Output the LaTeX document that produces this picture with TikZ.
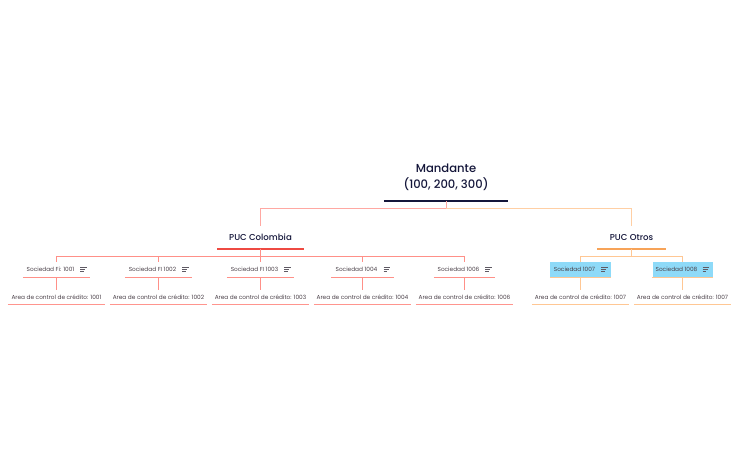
\documentclass[tikz,border=0pt]{standalone}
\usepackage{fontspec}
\setmainfont{Poppins}
\newfontfamily\headfont{Poppins Medium}
\definecolor{inkdark}{HTML}{14163A}
\definecolor{inksoft}{HTML}{4A4048}
\definecolor{iconink}{HTML}{5F5A64}
\definecolor{coralconn}{HTML}{FF9088}
\definecolor{corallight}{HTML}{FFA8A2}
\definecolor{coralstrong}{HTML}{EE4A42}
\definecolor{coralleaf}{HTML}{FF958E}
\definecolor{orangeconn}{HTML}{FFC794}
\definecolor{orangelight}{HTML}{FFCFA4}
\definecolor{orangestrong}{HTML}{F7A358}
\definecolor{bluefill}{HTML}{8EDAF8}
\newcommand{\socname}[1]{#1\hspace{12pt}}
\tikzset{
  textbox/.style={draw=none,inner sep=0pt,anchor=south,align=center},
  rootbox/.style={textbox,minimum width=124pt,minimum height=48pt,text=inkdark,font=\headfont\fontsize{11.6}{16}\selectfont},
  pucbox/.style={textbox,minimum height=23pt,text=inkdark,font=\headfont\fontsize{8.6}{10}\selectfont},
  socbox/.style={textbox,minimum height=15.5pt,text=inksoft,font=\fontsize{5.8}{7}\selectfont},
  leafbox/.style={textbox,minimum width=97pt,minimum height=14pt,text=inksoft,font=\fontsize{5.8}{7}\selectfont},
  link/.style={line width=1pt,draw=#1},
  heavyrule/.style={line width=1.3pt,draw=#1},
  lightrule/.style={line width=1pt,draw=#1},
  iconline/.style={line width=0.6pt,draw=iconink},
}
\begin{document}
\begin{tikzpicture}[x=1pt,y=-1pt]
\useasboundingbox (0,0) rectangle (739,457);
\node[rootbox] (root) at (446,201) {Mandante\\(100, 200, 300)};
\node[pucbox,minimum width=86pt] (col) at (260.5,249) {PUC Colombia};
\node[pucbox,minimum width=68pt] (otr) at (631.5,249) {PUC Otros};
\node[socbox,minimum width=67pt] (s1) at (56.5,277.5) {\socname{Sociedad Fi: 1001}};
\node[socbox,minimum width=67pt] (s2) at (158.5,277.5) {\socname{Sociedad FI 1002}};
\node[socbox,minimum width=67pt] (s3) at (260.5,277.5) {\socname{Sociedad FI 1003}};
\node[socbox,minimum width=62pt] (s4) at (362.5,277.5) {\socname{Sociedad 1004}};
\node[socbox,minimum width=61pt] (s6) at (464.5,277.5) {\socname{Sociedad 1006}};
\node[socbox,minimum width=61pt,fill=bluefill] (s7) at (580.5,277.5) {\socname{Sociedad 1007}};
\node[socbox,minimum width=60pt,fill=bluefill] (s8) at (682.5,277.5) {\socname{Sociedad 1008}};
\node[leafbox] (l1) at (56.5,304.5) {Area de control de crédito: 1001};
\node[leafbox] (l2) at (158.5,304.5) {Area de control de crédito: 1002};
\node[leafbox] (l3) at (260.5,304.5) {Area de control de crédito: 1003};
\node[leafbox] (l4) at (362.5,304.5) {Area de control de crédito: 1004};
\node[leafbox] (l6) at (464.5,304.5) {Area de control de crédito: 1006};
\node[leafbox] (l7) at (580.5,304.5) {Area de control de crédito: 1007};
\node[leafbox] (l8) at (682.5,304.5) {Area de control de crédito: 1007};
% underlines
\foreach \n/\c in {root/inkdark,col/coralstrong,otr/orangestrong}{\draw[heavyrule=\c] (\n.south west) -- (\n.south east);}
\foreach \n/\c in {s1/coralconn,s2/coralconn,s3/coralconn,s4/coralconn,s6/coralconn,s7/orangeconn,s8/orangeconn,
  l1/coralleaf,l2/coralleaf,l3/coralleaf,l4/coralleaf,l6/coralleaf,l7/orangeconn,l8/orangeconn}{\draw[lightrule=\c] (\n.south west) -- (\n.south east);}
% note icons
\foreach \n in {s1,s2,s3,s4,s6,s7,s8}{
  \draw[iconline] ([xshift=-10pt,yshift=2.2pt]\n.east) -- ++(6.5,0);
  \draw[iconline] ([xshift=-10pt]\n.east) -- ++(5,0);
  \draw[iconline] ([xshift=-10pt,yshift=-2.2pt]\n.east) -- ++(3.5,0);
}
% root links
\draw[link=corallight] (root.south) -- ++(0,7.5) -| (col.north);
\draw[link=orangelight] (root.south) ++(0,7.5) -| (otr.north);
% bus
\foreach \c in {s1,s2,s3,s4,s6}{\draw[link=coralconn] (col.south) -- ++(0,8) -| (\c.north);}
\foreach \c in {s7,s8}{\draw[link=orangeconn] (otr.south) -- ++(0,8) -| (\c.north);}
\foreach \a/\b in {s1/l1,s2/l2,s3/l3,s4/l4,s6/l6}{\draw[link=coralconn] (\a.south) -- (\b.north);}
\foreach \a/\b in {s7/l7,s8/l8}{\draw[link=orangeconn] (\a.south) -- (\b.north);}
\end{tikzpicture}
\end{document}
